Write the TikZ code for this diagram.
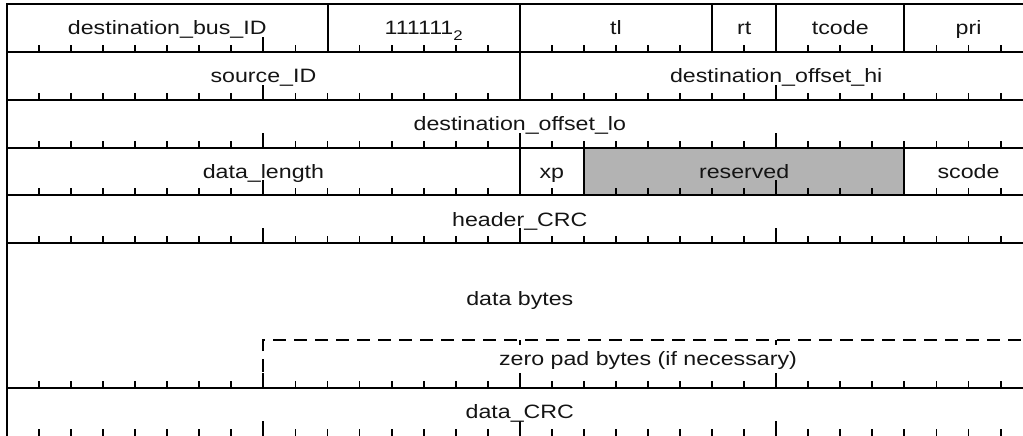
\documentclass[tikz,border=0pt]{standalone}
\usepackage{fontspec}
\setmainfont{Liberation Sans}[FakeStretch=1.2]
\definecolor{resgray}{RGB}{179,179,179}
\definecolor{inkc}{RGB}{20,20,20}
\newcommand\tickrow[2]{%
  \foreach \b in {#2}{%
    \pgfmathsetmacro\tlen{ifthenelse(mod(\b,8)==0,15,7)}%
    \draw[tickline] ({7+32.05*\b},#1) -- ++(0,-\tlen);
  }}
\begin{document}
\begin{tikzpicture}[x=0.75pt,y=-0.75pt,
  frame/.style={line width=1.5pt,line cap=rect},
  tickline/.style={line width=1.4pt},
  dashline/.style={line width=1.5pt,dash pattern=on 9.75pt off 6pt},
  lbl/.style={anchor=base,inner sep=0pt,text=inkc,font=\fontsize{14.5}{16}\selectfont}]
\useasboundingbox (0,0) rectangle (1023,435);
\clip (0,0) rectangle (1023,435);
% reserved fill
\fill[resgray] ({7+32.05*18},147.6) rectangle ({7+32.05*28},195.4);
% horizontal lines
\foreach \yy in {4,51.9,99.7,147.6,195.4,243.3,388}{
  \draw[frame] (7,\yy) -- (1033,\yy);
}
% outer verticals
\draw[frame] (7,4) -- (7,440);
\draw[frame] (1032.6,4) -- (1032.6,440);
% field boundaries row 1
\foreach \b in {10,16,22,24,28}{
  \draw[frame] ({7+32.05*\b},4) -- ({7+32.05*\b},51.9);
}
% row 2
\draw[frame] ({7+32.05*16},51.9) -- ({7+32.05*16},99.7);
% row 4
\foreach \b in {16,18,28}{
  \draw[frame] ({7+32.05*\b},147.6) -- ({7+32.05*\b},195.4);
}
% zero pad dashed box
\draw[dashline] ({7+32.05*8},372) -- ({7+32.05*8},340) -- (1033,340);
\draw[tickline] ({7+32.05*16},340) -- ++(0,5);
\draw[tickline] ({7+32.05*24},340) -- ++(0,5);
% ticks
\tickrow{51.9}{1,...,9,11,12,13,14,15,17,18,19,20,21,23,25,26,27,29,30,31}
\tickrow{99.7}{1,...,15,17,18,...,31}
\tickrow{147.6}{1,...,31}
\tickrow{195.4}{1,...,15,17,19,20,...,27,29,30,31}
\tickrow{243.3}{1,...,31}
\tickrow{388}{1,...,31}
\tickrow{436}{1,...,31}
% labels
\node[lbl] (dbid) at ({7+32.05*5},35) {destination\_bus\_ID};
\node[lbl] (ones) at ({7+32.05*13},35) {111111\raisebox{-4.5pt}{\fontsize{10.5}{12}\selectfont 2}};
\node[lbl] (tl) at ({7+32.05*19},35) {tl};
\node[lbl] (rt) at ({7+32.05*23},35) {rt};
\node[lbl] (tcode) at ({7+32.05*26},35) {tcode};
\node[lbl] (pri) at ({7+32.05*30},35) {pri};
\node[lbl] (sid) at ({7+32.05*8},83) {source\_ID};
\node[lbl] (dohi) at ({7+32.05*24},83) {destination\_offset\_hi};
\node[lbl] (dolo) at ({7+32.05*16},130.7) {destination\_offset\_lo};
\node[lbl] (dlen) at ({7+32.05*8},178.6) {data\_length};
\node[lbl] (xp) at ({7+32.05*17},178.6) {xp};
\node[lbl] (res) at ({7+32.05*23},178.6) {reserved};
\node[lbl] (scode) at ({7+32.05*30},178.6) {scode};
\node[lbl] (hcrc) at ({7+32.05*16},226.4) {header\_CRC};
\node[lbl] (dbytes) at ({7+32.05*16},305) {data bytes};
\node[lbl] (zpad) at ({7+32.05*20},365) {zero pad bytes (if necessary)};
\node[lbl] (dcrc) at ({7+32.05*16},418) {data\_CRC};
\end{tikzpicture}
\end{document}
